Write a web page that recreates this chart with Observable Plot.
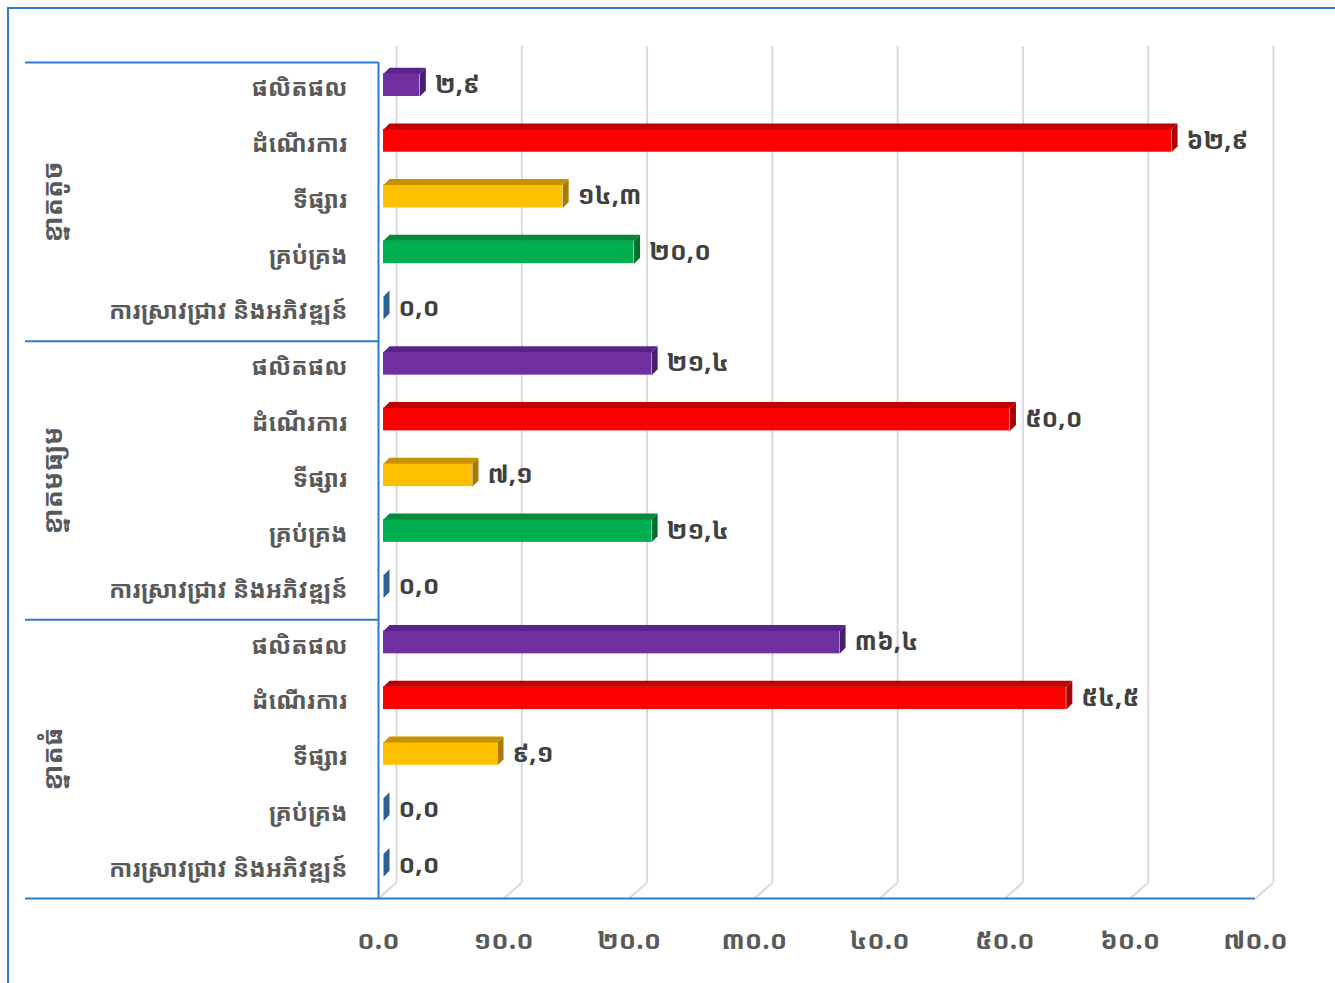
<!DOCTYPE html>
<html>
<head>
<meta charset="utf-8">
<script src="https://cdn.jsdelivr.net/npm/d3@7"></script>
<script src="https://cdn.jsdelivr.net/npm/@observablehq/plot@0.6"></script>
<style>
  html, body { margin: 0; padding: 0; background: #fff; overflow: hidden; width: 1335px; height: 983px; }
  #frame { position: absolute; left: 7px; top: 7px; width: 1340px; height: 990px; border: 2px solid #2b7bd1; box-sizing: border-box; }
  #chart { position: absolute; left: 0; top: 0; }
</style>
</head>
<body>
<div id="frame"></div>
<div id="chart"></div>
<script>
// ---- data ----
const groups = ["ខ្នាតតូច", "ខ្នាតមធ្យម", "ខ្នាតធំ"];
const categories = ["ផលិតផល", "ដំណើរការ", "ទីផ្សារ", "គ្រប់គ្រង", "ការស្រាវជ្រាវ និងអភិវឌ្ឍន៍"];
const smallValues = [2.9, 62.9, 14.3, 20.0, 0.0];
const mediumValues = [21.4, 50.0, 7.1, 21.4, 0.0];
const largeValues = [36.4, 54.5, 9.1, 0.0, 0.0];
const xTicks = [0, 10, 20, 30, 40, 50, 60, 70];

// ---- styles ----
const frontColors = ["#7030a0", "#ff0000", "#ffc000", "#00b050", "#4472c4"];
const topColors   = ["#58248a", "#c00000", "#c79200", "#008a3c", "#2f5f8f"];
const sideColors  = ["#4a1d72", "#a80000", "#a87b00", "#006e30", "#2f5f8f"];
const zeroColor = "#2f5f8f";
const blue = "#2b7bd1";
const font = "'Noto Sans Khmer', 'Khmer OS', 'Khmer OS System', 'Noto Sans', sans-serif";

const W = 1335, H = 983, ML = 378, MR = 80, MT = 62, MB = 85;
const kx = (W - ML - MR) / 70;       // px per x unit
const ky = (H - MT - MB) / 15;       // px per row
const GX = 18 / kx, GY = 16 / ky;    // grid depth
const BX = 6 / kx, BY = 6 / ky;      // bar depth
const FACE0 = 0.2, FACE1 = 0.61;

const valueSets = [smallValues, mediumValues, largeValues];
const rows = [];
groups.forEach((g, gi) => categories.forEach((c, ci) => {
  rows.push({row: gi * 5 + ci, group: g, category: c, ci, value: valueSets[gi][ci]});
}));

const khDigits = "០១២៣៤៥៦៧៨៩";
const kh = s => s.replace(/[0-9]/g, d => khDigits[+d]);

const topPts = [], sidePts = [];
rows.forEach(d => {
  const y0 = d.row + FACE0, y1 = d.row + FACE1;
  const ct = d.value === 0 ? zeroColor : topColors[d.ci];
  const cs = d.value === 0 ? zeroColor : sideColors[d.ci];
  [[0, y0], [BX, y0 - BY], [d.value + BX, y0 - BY], [d.value, y0]]
    .forEach(([x, y]) => topPts.push({id: d.row, x, y, c: ct}));
  [[d.value, y0], [d.value + BX, y0 - BY], [d.value + BX, y1 - BY], [d.value, y1]]
    .forEach(([x, y]) => sidePts.push({id: d.row, x, y, c: cs}));
});

const chart = Plot.plot({
  width: W, height: H,
  marginLeft: ML, marginRight: MR, marginTop: MT, marginBottom: MB,
  x: {domain: [0, 70]},
  y: {domain: [0, 15], reverse: true},
  color: {type: "identity"},
  style: {fontFamily: font, fontSize: "24px", fontWeight: "bold", color: "#595959", background: "transparent", overflow: "visible"},
  marks: [
    // back grid and floor diagonals
    Plot.ruleX(xTicks, {dx: 18, dy: -16, stroke: "#d9d9d9", strokeWidth: 2}),
    Plot.link(xTicks, {x1: d => d, y1: 15, x2: d => d + GX, y2: 15 - GY, stroke: "#d9d9d9", strokeWidth: 2}),
    // bars
    Plot.rect(rows, {x1: 0, x2: "value", y1: d => d.row + FACE0, y2: d => d.row + FACE1,
      fill: d => frontColors[d.ci], dx: 5}),
    Plot.line(topPts, {x: "x", y: "y", z: "id", fill: "c", stroke: "none", dx: 5}),
    Plot.line(sidePts, {x: "x", y: "y", z: "id", fill: "c", stroke: "none", dx: 5}),
    // value labels
    Plot.text(rows, {x: "value", y: d => d.row + 0.4, text: d => kh(d.value.toFixed(1).replace(".", ",")),
      textAnchor: "start", dx: 20, fill: "#404040", fontSize: 25, fontWeight: "bold"}),
    // axis lines
    Plot.ruleX([0], {y1: 0, y2: 15, stroke: blue, strokeWidth: 2}),
    Plot.ruleY([15], {stroke: blue, strokeWidth: 2}),
    Plot.axisY({ticks: [0, 5, 10, 15], tickSize: 353, tickFormat: () => "", label: null,
      stroke: blue, strokeWidth: 2, strokeOpacity: 1}),
    // category labels
    Plot.axisY({ticks: rows.map(d => d.row + 0.47), tickFormat: (v) => categories[Math.floor(v) % 5],
      tickSize: 0, tickPadding: 31, label: null, fill: "#595959", fontSize: 24, fontWeight: "bold"}),
    // group labels
    Plot.text(groups, {y: (d, i) => i * 5 + 2.5, text: d => d, frameAnchor: "left", textAnchor: "middle",
      dx: -325, rotate: -90, fill: "#595959", fontSize: 27, fontWeight: "bold"}),
    // x axis
    Plot.axisX({ticks: xTicks, tickFormat: v => kh(v.toFixed(1)), tickSize: 0, tickPadding: 32, label: null,
      fill: "#595959", fontSize: 26, fontWeight: "bold"})
  ]
});
document.getElementById("chart").appendChild(chart);
</script>
</body>
</html>
